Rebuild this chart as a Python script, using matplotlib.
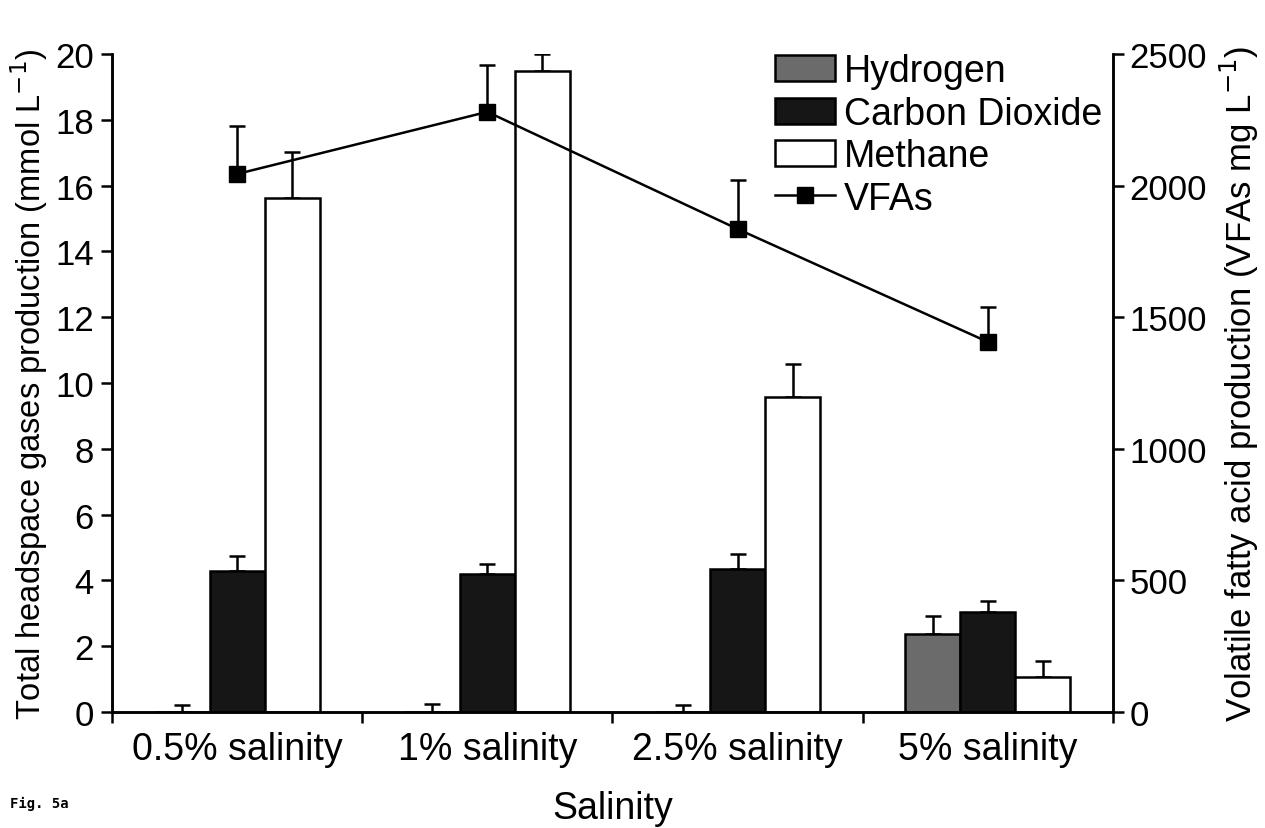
import numpy as np
import matplotlib
matplotlib.use("Agg")
from matplotlib import pyplot as plt

plt.rcParams['font.family'] = ['Liberation Sans', 'DejaVu Sans']

groups = ["0.5% salinity", "1% salinity", "2.5% salinity", "5% salinity"]
hydrogen = [0.0, 0.0, 0.0, 2.37]
hydrogen_err = [0.2, 0.25, 0.2, 0.55]
co2 = [4.3, 4.2, 4.35, 3.04]
co2_err = [0.45, 0.3, 0.45, 0.33]
methane = [15.62, 19.48, 9.57, 1.06]
methane_err = [1.4, 0.52, 1.0, 0.49]
vfa = [2044, 2280, 1835, 1406]
vfa_err = [182, 178, 186, 133]

fig = plt.figure(figsize=(12.65, 8.29), dpi=100)
ax = fig.add_axes([0.0885, 0.1399, 0.7913, 0.7938])
ax2 = ax.twinx()

x = np.arange(len(groups))
w = 0.22
series = [(hydrogen, hydrogen_err, "#6b6b6b", "Hydrogen"),
          (co2, co2_err, "#161616", "Carbon Dioxide"),
          (methane, methane_err, "white", "Methane")]
handles = []
for i, (vals, err, col, lab) in enumerate(series):
    pos = x + (i - 1) * w
    b = ax.bar(pos, vals, w, color=col, edgecolor="black", linewidth=1.8, label=lab, zorder=2)
    ax.errorbar(pos, vals, yerr=[np.zeros(len(vals)), err], fmt="none", ecolor="black",
                elinewidth=1.8, capsize=6, capthick=1.8, zorder=1)
    handles.append(b)

ln, = ax2.plot(x, vfa, color="black", linewidth=1.8, marker="s", markersize=11, label="VFAs")
ax2.errorbar(x, vfa, yerr=[np.zeros(len(vfa)), vfa_err], fmt="none", ecolor="black",
             elinewidth=1.8, capsize=6, capthick=1.8)
handles.append(ln)

ax.set_xlim(-0.5, 3.5)
ax.set_ylim(0, 20)
ax2.set_ylim(0, 2500)
ax.set_yticks(np.arange(0, 21, 2))
ax2.set_yticks(np.arange(0, 2501, 500))
ax.set_xticks(x)
ax.set_xticklabels(groups)
ax.set_xticks(np.arange(-0.5, 3.6, 1), minor=True)
ax.tick_params(axis="x", which="major", length=0, labelsize=27, pad=14)
ax.tick_params(axis="x", which="minor", length=8, width=1.8, direction="out")
ax.tick_params(axis="y", length=8, width=1.8, labelsize=25, pad=5)
ax2.tick_params(axis="y", length=8, width=1.8, labelsize=25, pad=4)

for a in (ax, ax2):
    a.spines["top"].set_visible(False)
    for s in ("left", "right", "bottom"):
        a.spines[s].set_linewidth(1.8)

ax.set_xlabel("Salinity", fontsize=27, labelpad=16)
ax.set_ylabel("Total headspace gases production (mmol L$^{-1}$)", fontsize=23.5, labelpad=4)
ax2.set_ylabel("Volatile fatty acid production (VFAs mg L$^{-1}$)", fontsize=25, labelpad=8)

ax.legend(handles=handles, labels=[h.get_label() for h in handles], loc="upper right",
          bbox_to_anchor=(1.012, 1.035), frameon=False, fontsize=27, handlelength=1.6,
          handleheight=0.7, handletextpad=0.25, labelspacing=0.17, borderaxespad=0.2)

fig.text(0.008, 0.025, "Fig. 5a", family="DejaVu Sans Mono", fontsize=10, weight="bold")

fig.savefig("out.png", dpi=100)
